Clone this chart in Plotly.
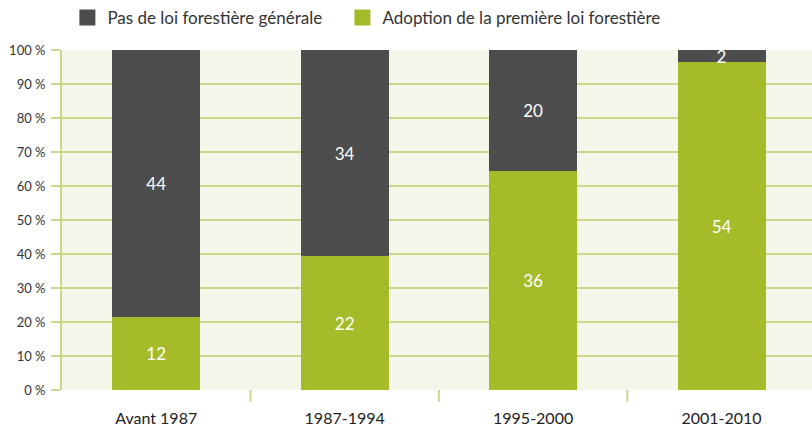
import plotly.graph_objects as go

categories = ["Avant 1987", "1987-1994", "1995-2000", "2001-2010"]
series_names = ["Pas de loi forestière générale", "Adoption de la première loi forestière"]
adoption = [12, 22, 36, 54]
no_law = [44, 34, 20, 2]
y_ticks = [0, 10, 20, 30, 40, 50, 60, 70, 80, 90, 100]
y_tick_labels = [f"{v}\u202f%" for v in y_ticks]

GREEN = "#a6bb29"
GREY = "#4d4d4d"
GRID = "#c9d98c"
BG = "#f4f6ea"
FONT = "Lato"

fig = go.Figure()
fig.add_trace(go.Bar(x=categories, y=adoption, text=adoption, texttemplate="%{text}",
                     name=series_names[1], marker=dict(color=GREEN, line=dict(width=0)),
                     showlegend=False))
fig.add_trace(go.Bar(x=categories, y=no_law, text=no_law, texttemplate="%{text}",
                     name=series_names[0], marker=dict(color=GREY, line=dict(width=0)),
                     showlegend=False))
fig.update_traces(textposition="inside", insidetextanchor="middle", constraintext="none",
                  textangle=0,
                  textfont=dict(color="white", size=17, family=FONT), selector=dict(type="bar"))

# legend entries (one legend per entry for exact placement)
for name, col, lg in [(series_names[0], GREY, "legend"), (series_names[1], GREEN, "legend2")]:
    fig.add_trace(go.Scatter(x=[categories[0]], y=[None], mode="markers", name=name,
                             legend=lg,
                             marker=dict(symbol="square", size=16, color=col)))

legend_common = dict(orientation="h", xref="container", yref="container", y=1.0,
                     xanchor="left", yanchor="top", itemsizing="trace",
                     font=dict(size=17, color="#333333"), bgcolor="rgba(0,0,0,0)",
                     itemclick=False, itemdoubleclick=False)

fig.update_layout(
    width=812, height=430,
    barmode="stack", barnorm="percent", bargap=0.533,
    plot_bgcolor=BG, paper_bgcolor="white",
    margin=dict(l=62, r=0, t=50, b=40, autoexpand=False),
    font=dict(family=FONT, color="#333333"),
    hovermode=False,
    showlegend=True,
    legend=dict(x=0.083, **legend_common),
    legend2=dict(x=0.4217, **legend_common),
)
fig.update_xaxes(range=[-0.5, 3.48], showgrid=False, showline=False, ticks="",
                 ticklabelstandoff=17,
                 tickfont=dict(size=16, color="#222222"), fixedrange=True)
fig.update_yaxes(range=[0, 100], tickvals=y_ticks, ticktext=y_tick_labels,
                 showgrid=True, gridcolor=GRID, gridwidth=2,
                 showline=True, linecolor=GRID, linewidth=2,
                 ticks="outside", ticklen=9, tickcolor=GRID, tickwidth=2,
                 ticklabelstandoff=3,
                 zeroline=False, tickfont=dict(size=13, color="#333333"), fixedrange=True)

# category separators below the axis
for i in range(len(categories) - 1):
    fig.add_shape(type="line", xref="x", yref="paper", x0=i + 0.5, x1=i + 0.5,
                  y0=0, y1=-0.035, line=dict(color=GRID, width=2))

fig.write_html("out.html", config={"displayModeBar": False},
               post_script="document.body.style.margin='0';document.body.style.overflow='hidden';")
